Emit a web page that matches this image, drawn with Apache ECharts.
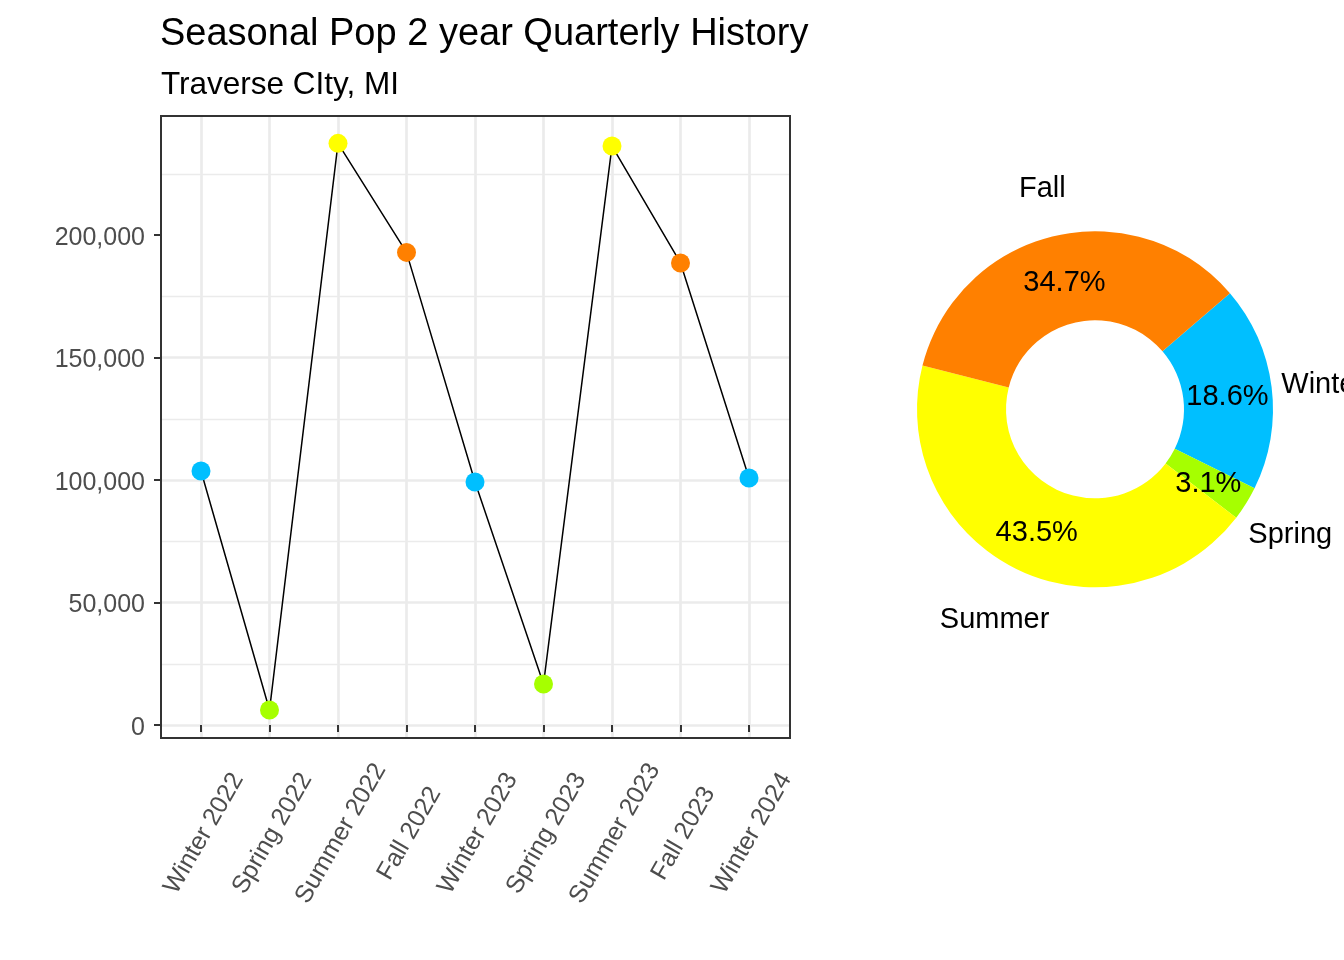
<!DOCTYPE html>
<html>
<head>
<meta charset="utf-8">
<title>Seasonal Pop 2 year Quarterly History</title>
<script src="https://cdn.jsdelivr.net/npm/echarts@6/dist/echarts.min.js"></script>
<style>
  html, body { margin: 0; padding: 0; background: #fff; }
  #chart { width: 1344px; height: 960px; }
</style>
</head>
<body>
<div id="chart"></div>
<script>
// quarterly history
const quarters = ['Winter 2022', 'Spring 2022', 'Summer 2022', 'Fall 2022', 'Winter 2023',
  'Spring 2023', 'Summer 2023', 'Fall 2023', 'Winter 2024'];
const population = [103700, 6100, 237400, 192900, 99200, 16700, 236300, 188600, 100800];
const yTicks = [0, 50000, 100000, 150000, 200000];

// seasonal share for the donut
const seasons = ['Winter', 'Spring', 'Summer', 'Fall'];
const seasonShare = [18.6, 3.1, 43.5, 34.7];

const seasonColor = { Winter: '#00BFFF', Spring: '#A6FF00', Summer: '#FFFF00', Fall: '#FF8000' };
const FONT = 'Liberation Sans, Arial, sans-serif';
const GRID_LINE = '#ebebeb';
const DARK = '#333333';
const PIE_CENTER = [1095, 409.3];
const LABEL_CENTER = [1095, 413.3]; // text sits a bit lower than canvas "middle"
const PIE_START = 40.7;

const chart = echarts.init(document.getElementById('chart'), null, { renderer: 'canvas' });

// transparent ring used only to place text at a given radius
function labelRing(r0, r1, formatter) {
  return {
    type: 'pie',
    center: LABEL_CENTER,
    radius: [r0, r1],
    startAngle: PIE_START,
    clockwise: true,
    silent: true,
    avoidLabelOverlap: false,
    data: seasons.map((s, i) => ({ name: s, value: seasonShare[i] })),
    itemStyle: { color: 'rgba(0,0,0,0)', borderWidth: 0 },
    label: { show: true, position: 'inside', formatter, fontSize: 29, color: '#000',
      fontFamily: FONT, rotate: 0 },
    labelLine: { show: false },
    emphasis: { disabled: true },
    z: 4,
  };
}

chart.setOption({
  animation: false,
  backgroundColor: '#ffffff',
  textStyle: { fontFamily: FONT },
  title: [
    { text: 'Seasonal Pop 2 year Quarterly History', left: 155, top: 11,
      textStyle: { fontSize: 38, fontWeight: 'normal', color: '#000', fontFamily: FONT } },
    { text: 'Traverse CIty, MI', left: 156, top: 64,
      textStyle: { fontSize: 31.5, fontWeight: 'normal', color: '#000', fontFamily: FONT } },
  ],
  grid: [
    // 0: panel border
    { left: 161, top: 116, width: 629, height: 622, show: true, borderColor: DARK, borderWidth: 2,
      backgroundColor: 'transparent', z: 3 },
    // 1: horizontal guides + y ticks (0 .. 250k)
    { left: 161, top: 112.5, width: 629, height: 612.5 },
    // 2: data
    { left: 201, top: 116, width: 548, height: 622 },
    // 3: y labels, nudged down
    { left: 161, top: 115.5, width: 629, height: 612.5 },
    // 4: rotated x labels, nudged right
    { left: 204, top: 116, width: 548, height: 622 },
  ],
  xAxis: [
    { gridIndex: 0, type: 'value', show: false, min: 0, max: 1 },
    { gridIndex: 1, type: 'value', show: false, min: 0, max: 1 },
    {
      gridIndex: 2, type: 'category', data: quarters, boundaryGap: false,
      axisLine: { show: false },
      axisTick: { show: true, length: 7, inside: false, interval: 0,
        lineStyle: { color: DARK, width: 2 } },
      axisLabel: { show: false },
      splitLine: { show: true, interval: 0, lineStyle: { color: GRID_LINE, width: 2.7 } },
    },
    { gridIndex: 3, type: 'value', show: false, min: 0, max: 1 },
    {
      gridIndex: 4, type: 'category', data: quarters, boundaryGap: false,
      axisLine: { show: false }, axisTick: { show: false }, splitLine: { show: false },
      axisLabel: { show: true, interval: 0, rotate: 60, align: 'center', verticalAlign: 'middle',
        margin: 95.5, fontSize: 25, color: '#4d4d4d', fontFamily: FONT },
    },
  ],
  yAxis: [
    { gridIndex: 0, type: 'value', show: false, min: 0, max: 1 },
    {
      gridIndex: 1, type: 'value', min: 0, max: 250000, interval: 50000,
      axisLine: { show: false },
      axisTick: { show: true, length: 7, customValues: yTicks, lineStyle: { color: DARK, width: 2 } },
      axisLabel: { show: false },
      splitLine: { show: true, showMaxLine: false, lineStyle: { color: GRID_LINE, width: 2.7 } },
      minorSplitLine: { show: true, lineStyle: { color: GRID_LINE, width: 1.3 } },
      minorTick: { show: false, splitNumber: 2 },
    },
    { gridIndex: 2, type: 'value', show: false, min: -5310, max: 248570 },
    {
      gridIndex: 3, type: 'value', min: 0, max: 250000, interval: 50000,
      axisLine: { show: false }, axisTick: { show: false },
      splitLine: { show: false }, minorSplitLine: { show: false },
      axisLabel: {
        customValues: yTicks, margin: 16, fontSize: 25, color: '#4d4d4d', fontFamily: FONT,
        formatter: (v) => v.toLocaleString('en-US'),
      },
    },
    { gridIndex: 4, type: 'value', show: false, min: 0, max: 1 },
  ],
  series: [
    {
      type: 'line',
      xAxisIndex: 2, yAxisIndex: 2,
      data: population.map((v, i) => ({
        value: v,
        itemStyle: { color: seasonColor[quarters[i].split(' ')[0]] },
      })),
      symbol: 'circle',
      symbolSize: 19,
      showAllSymbol: true,
      lineStyle: { color: '#000', width: 1.5 },
      itemStyle: { borderWidth: 0 },
      emphasis: { disabled: true },
      z: 2,
    },
    {
      // donut
      type: 'pie',
      center: PIE_CENTER,
      radius: [89, 178],
      startAngle: PIE_START,
      clockwise: true,
      silent: true,
      data: seasons.map((s, i) => ({ name: s, value: seasonShare[i], itemStyle: { color: seasonColor[s] } })),
      itemStyle: { borderWidth: 0 },
      label: { show: false },
      labelLine: { show: false },
      emphasis: { disabled: true },
    },
    // percentages in the ring, season names outside it
    labelRing(120.5, 140.5, '{c}%'),
    labelRing(217, 237, '{b}'),
  ],
});
</script>
</body>
</html>
